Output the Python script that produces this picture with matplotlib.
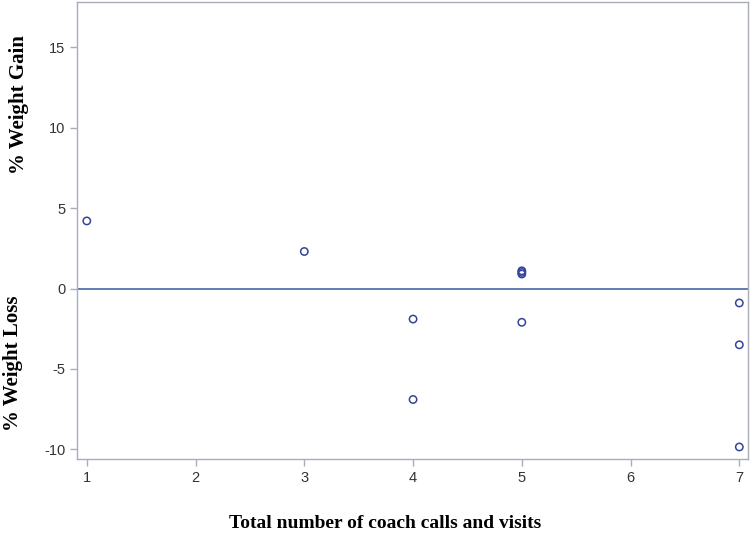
import matplotlib.pyplot as plt

plt.rcParams['axes.unicode_minus'] = False

# data
calls = [1, 3, 5, 5, 5, 4, 4, 5, 7, 7, 7]
pct_change = [4.2, 2.3, 1.1, 1.0, 0.9, -1.9, -6.9, -2.1, -0.9, -3.5, -9.85]
xticks = [1, 2, 3, 4, 5, 6, 7]
yticks = [-10, -5, 0, 5, 10, 15]

fig = plt.figure(figsize=(7.52, 5.35), dpi=100)
ax = fig.add_axes([0.1024, 0.142, 0.8923, 0.854])

ax.axhline(0, color='#4f74aa', lw=1.3, zorder=1)
ax.scatter(calls, pct_change, s=28, facecolors='none', edgecolors='#33449a',
           linewidths=1.1, zorder=3)

ax.set_xlim(0.91, 7.08)
ax.set_ylim(-10.6, 17.8)
ax.set_xticks(xticks)
ax.set_yticks(yticks)

for s in ax.spines.values():
    s.set_color('#a8adb8')
    s.set_linewidth(1.0)
ax.tick_params(colors='#a8adb8', length=5, width=1.0, labelcolor='#333333',
               labelsize=10.5)
for lab in ax.get_xticklabels() + ax.get_yticklabels():
    lab.set_family('Liberation Sans')

serif = dict(family='Liberation Serif', fontweight='bold')
fig.text(385 / 752, 1 - 523 / 535, 'Total number of coach calls and visits',
         ha='center', va='center', fontsize=14, **serif)
fig.text(19 / 752, 1 - 105 / 535, '% Weight Gain', rotation=90,
         ha='center', va='center', fontsize=15, **serif)
fig.text(13 / 752, 1 - 363 / 535, '% Weight Loss', rotation=90,
         ha='center', va='center', fontsize=15, **serif)

fig.savefig('out.png', dpi=100)
